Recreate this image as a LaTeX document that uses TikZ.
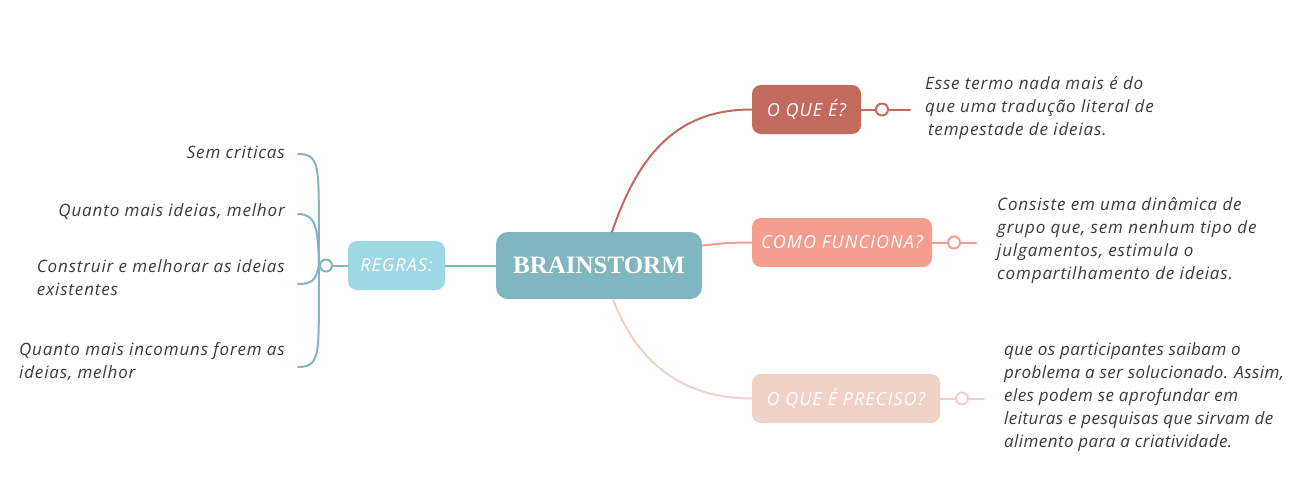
\documentclass[tikz,border=0pt]{standalone}
\usepackage{fontspec}
\setmainfont{Open Sans}
\newfontfamily\titlefont{Liberation Serif}
\definecolor{ink}{HTML}{3A3A3A}
\definecolor{teal}{HTML}{7FB6BF}
\definecolor{sky}{HTML}{9DD8E4}
\definecolor{brick}{HTML}{C26A5D}
\definecolor{salmon}{HTML}{F59D8E}
\definecolor{blush}{HTML}{F1D2C6}
\begin{document}
\begin{tikzpicture}[x=1pt, y=-1pt, line join=round, line cap=round,
	box/.style={rounded corners=9pt, minimum height=49pt, text=white, inner sep=0pt,
		font=\fontsize{18}{20}\selectfont\itshape\addfontfeature{LetterSpace=6}},
	txt/.style={text=ink, inner sep=0pt, align=left,
		font=\fontsize{17}{23}\selectfont\itshape\addfontfeature{LetterSpace=5}},
	knot/.style={circle, draw, fill=white, line width=2pt, inner sep=0pt, minimum size=12pt},
	link/.style={line width=2pt}]
	\useasboundingbox (0,0) rectangle (1290,483);
	
	% centro
	\node[box, fill=teal, minimum width=206pt, minimum height=67pt, rounded corners=12pt,
		font=\fontsize{25}{28}\selectfont\titlefont\bfseries] (brain) at (599,265.5) {BRAINSTORM};
	
	% ramos da direita
	\node[box, fill=brick, minimum width=109pt] (que) at (806.5,109.5) {O QUE É?};
	\node[box, fill=salmon, minimum width=180pt] (como) at (842,242.5) {COMO FUNCIONA?};
	\node[box, fill=blush, minimum width=188pt] (preciso) at (846,398.5) {O QUE É PRECISO?};
	
	\node[knot, draw=brick] (kque) at (882,109.5) {};
	\node[knot, draw=salmon] (kcomo) at (954,242.5) {};
	\node[knot, draw=blush] (kpreciso) at (962,398.5) {};
	
	\path
	(910,109.5) coordinate (eque)
	(976,242.5) coordinate (ecomo)
	(984,398.5) coordinate (epreciso)
	;
	
	\node[txt, anchor=west] (tque) at (925,108) {Esse termo nada mais é do\\que uma tradução literal de\\\,tempestade de ideias.};
	\node[txt, anchor=west] (tcomo) at (997,241) {Consiste em uma dinâmica de\\grupo que, sem nenhum tipo de\\julgamentos, estimula o\\compartilhamento de ideias.};
	\node[txt, anchor=west, font=\fontsize{17}{23}\selectfont\itshape\addfontfeature{LetterSpace=2.5}]
		(tpreciso) at (1004,397.5) {que os participantes saibam o\\problema a ser solucionado. Assim,\\eles podem se aprofundar em\\leituras e pesquisas que sirvam de\\alimento para a criatividade.};
	
	\draw[link, brick] (brain.north)+(13,0) coordinate (bq) .. controls (640,150) and (680,109.5) .. (que.west);
	\draw[link, salmon] (brain.east)+(0,-20) coordinate (bc) .. controls (725,243) and (735,242.5) .. (como.west);
	\draw[link, blush] (brain.south)+(14,0) coordinate (bp) .. controls (640,370) and (690,398.5) .. (preciso.west);
	
	\draw[link, brick] (que.east) -- (kque.west) (kque.east) -- (eque);
	\draw[link, salmon] (como.east) -- (kcomo.west) (kcomo.east) -- (ecomo);
	\draw[link, blush] (preciso.east) -- (kpreciso.west) (kpreciso.east) -- (epreciso);
	
	% ramo da esquerda
	\node[box, fill=sky, minimum width=97pt] (regras) at (396.5,265.5) {REGRAS:};
	\node[knot, draw=teal] (kregras) at (326,265.5) {};
	\draw[link, teal] (brain.west) -- (regras.east);
	\draw[link, teal] (regras.west) -- (kregras.east);
	
	\node[txt, anchor=east] (sem) at (285,152) {Sem criticas};
	\node[txt, anchor=east] (quanto) at (285,211) {Quanto mais ideias, melhor};
	\node[txt, anchor=north east] (construir) at (285,259.5) {Construir e melhorar as ideias\\existentes};
	\node[txt, anchor=north east] (incomuns) at (285,342.5) {Quanto mais incomuns forem as\\ideias, melhor};
	
	\path
	(298,154) coordinate (lsem)
	(298,214) coordinate (lquanto)
	(298,284) coordinate (lconstruir)
	(298,367) coordinate (lincomuns)
	;
	\draw[link, teal] (kregras.west) .. controls (318,170) and (323,154) .. (lsem);
	\draw[link, teal] (kregras.west) .. controls (318,228) and (316,214) .. (lquanto);
	\draw[link, teal] (kregras.west) .. controls (316,280) and (312,284) .. (lconstruir);
	\draw[link, teal] (kregras.west) .. controls (318,350) and (323,367) .. (lincomuns);
\end{tikzpicture}
\end{document}
